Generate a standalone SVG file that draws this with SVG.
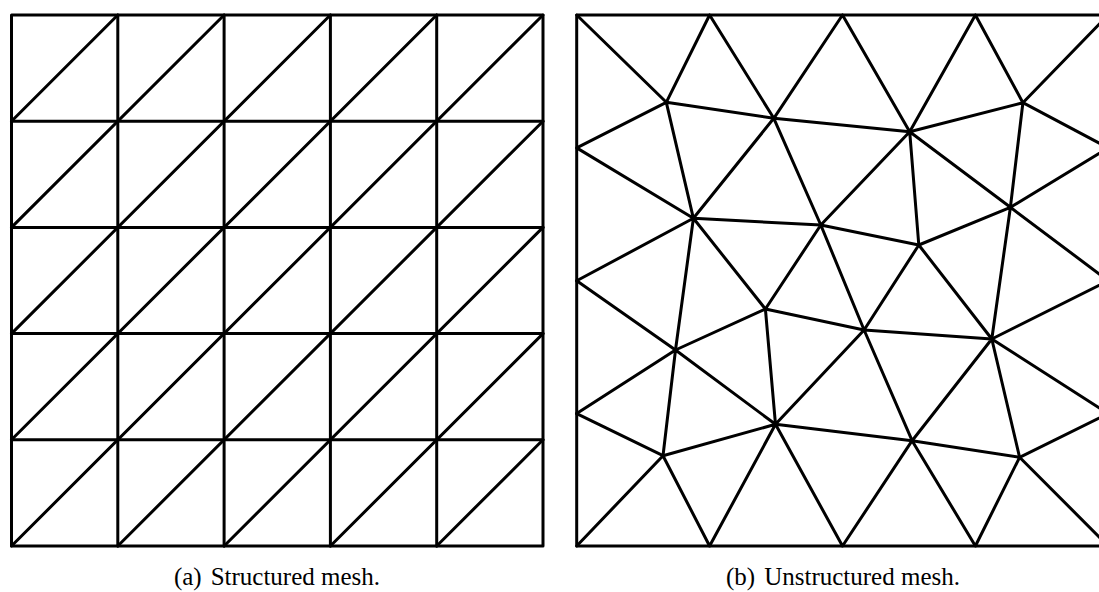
<svg xmlns="http://www.w3.org/2000/svg" width="1099" height="592" viewBox="0 0 1099 592">
<style>
.mesh{fill:none;stroke:#000;stroke-width:3;stroke-linecap:round;stroke-linejoin:round}
.cap{font-family:"Liberation Serif","Times New Roman",serif;font-size:25px;fill:#000;text-anchor:middle}
</style>
<rect width="1099" height="592" fill="#fff"/>
<g id="structured-mesh" class="mesh">
<rect x="11.5" y="15" width="531.5" height="531"/>
<path d="M117.8 15V546M224.1 15V546M330.4 15V546M436.7 15V546"/>
<path d="M11.5 121.2H543M11.5 227.4H543M11.5 333.6H543M11.5 439.8H543"/>
<path d="M11.5 121.2L117.8 15M11.5 227.4L224.1 15M11.5 333.6L330.4 15M11.5 439.8L436.7 15M11.5 546L543 15M117.8 546L543 121.2M224.1 546L543 227.4M330.4 546L543 333.6M436.7 546L543 439.8"/>
</g>
<g id="unstructured-mesh" class="mesh">
<rect x="576.7" y="15" width="531.5" height="531"/>
<path d="M576.7 15L666.3 102.3M709.6 15L666.3 102.3M709.6 15L773.8 118.3M842.5 15L773.8 118.3M842.5 15L909.7 131.7M975.4 15L909.7 131.7M975.4 15L1022.9 102.7M1108.2 15L1022.9 102.7"/>
<path d="M576.7 147.9L666.3 102.3M576.7 147.9L693.4 218.3M666.3 102.3L773.8 118.3M666.3 102.3L693.4 218.3M773.8 118.3L909.7 131.7M773.8 118.3L693.4 218.3M773.8 118.3L820.8 225M909.7 131.7L1022.9 102.7M909.7 131.7L820.8 225M909.7 131.7L918.8 245M909.7 131.7L1010.4 207.3M1022.9 102.7L1010.4 207.3M1022.9 102.7L1108.2 147.9"/>
<path d="M693.4 218.3L820.8 225M693.4 218.3L576.7 280.8M693.4 218.3L675.5 350M693.4 218.3L765.4 309M820.8 225L918.8 245M820.8 225L765.4 309M820.8 225L864.1 330M918.8 245L1010.4 207.3M918.8 245L864.1 330M918.8 245L991.8 339M1010.4 207.3L1108.2 147.9M1010.4 207.3L1108.2 280.8M1010.4 207.3L991.8 339"/>
<path d="M576.7 280.8L675.5 350M675.5 350L765.4 309M675.5 350L576.7 413.6M675.5 350L775.5 424.3M675.5 350L663 455.7M765.4 309L864.1 330M765.4 309L775.5 424.3M864.1 330L991.8 339M864.1 330L775.5 424.3M864.1 330L912.1 440.7M991.8 339L912.1 440.7M991.8 339L1019.6 457.3M991.8 339L1108.2 280.8M991.8 339L1108.2 413.6"/>
<path d="M775.5 424.3L912.1 440.7M775.5 424.3L663 455.7M775.5 424.3L709.6 546M775.5 424.3L842.5 546M663 455.7L576.7 413.6M663 455.7L576.7 546M663 455.7L709.6 546M912.1 440.7L842.5 546M912.1 440.7L975.4 546M912.1 440.7L1019.6 457.3M1019.6 457.3L1108.2 413.6M1019.6 457.3L1108.2 546M1019.6 457.3L975.4 546"/>
</g>
<g id="captions">
<text class="cap" x="277" y="585">(a)<tspan dx="9">Structured mesh.</tspan></text>
<text class="cap" x="843" y="585">(b)<tspan dx="9">Unstructured mesh.</tspan></text>
</g>
</svg>
